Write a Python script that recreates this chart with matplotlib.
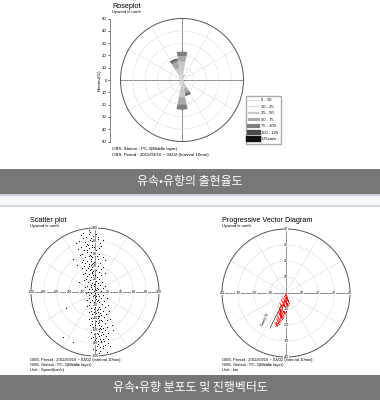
import numpy as np
import matplotlib
matplotlib.use("Agg")
import matplotlib.pyplot as plt
from matplotlib.patches import Rectangle
from matplotlib.lines import Line2D

plt.rcParams['font.family'] = ['Liberation Sans', 'DejaVu Sans']

# ---- rose plot data (percent per direction, stacked by speed class) ----
directions = np.arange(0, 360, 22.5)
speed_classes = ["0 - 10", "10 - 25", "25 - 50", "50 - 75", "75 - 100", "100 - 125", "125cm/s -"]
class_colors = ['#f0f0f0', '#dddddd', '#c8c8c8', '#aaaaaa', '#7e7e7e', '#4a4a4a', '#111111']
rose_pct = [
    # N    NNE  NE   ENE  E    ESE  SE   SSE  S    SSW  SW   WSW  W    WNW  NW   NNW
    [1.0, 0.5, 0.3, 0.2, 0.2, 0.2, 0.3, 0.5, 1.0, 0.5, 0.3, 0.2, 0.2, 0.2, 0.3, 0.5],
    [4.0, 1.5, 0.8, 0.5, 0.4, 0.5, 1.0, 2.0, 4.0, 1.5, 0.8, 0.5, 0.4, 0.5, 1.0, 2.5],
    [10.0, 2.0, 0.5, 0.2, 0.1, 0.3, 1.0, 4.5, 9.0, 1.5, 0.5, 0.2, 0.1, 0.3, 1.0, 7.0],
    [4.5, 0.5, 0.0, 0.0, 0.0, 0.0, 0.3, 3.5, 6.0, 0.5, 0.0, 0.0, 0.0, 0.0, 0.5, 5.0],
    [3.0, 0.0, 0.0, 0.0, 0.0, 0.0, 0.0, 1.5, 3.5, 0.0, 0.0, 0.0, 0.0, 0.0, 0.0, 1.5],
    [0.5, 0.0, 0.0, 0.0, 0.0, 0.0, 0.0, 0.7, 0.5, 0.0, 0.0, 0.0, 0.0, 0.0, 0.0, 0.8],
    [0.0, 0.0, 0.0, 0.0, 0.0, 0.0, 0.0, 0.4, 0.0, 0.0, 0.0, 0.0, 0.0, 0.0, 0.0, 0.5],
]
pct_ticks = [-50, -40, -30, -20, -10, 0, 10, 20, 30, 40, 50]

# ---- scatter plot data (u east, v north, cm/s) ----
scatter_uv = [
    (-18, 92), (-8, 94), (-3, 88), (-14, 86), (2, 91), (-22, 89), (-10, 97), (5, 86), (-6, 84),
    (-25, 80), (-15, 78), (-8, 82), (-2, 79), (4, 83), (-12, 75), (-19, 84), (8, 77), (-5, 74), (12, 81), (-30, 76),
    (-22, 70), (-14, 72), (-9, 68), (-4, 71), (2, 66), (-17, 65), (-11, 74), (6, 69), (-1, 64), (-26, 67), (10, 72), (-7, 63),
    (-20, 60), (-13, 62), (-8, 58), (-3, 61), (3, 57), (-16, 55), (-10, 56), (7, 60), (-5, 54), (-24, 58), (12, 55), (0, 62), (-35, 52),
    (-18, 50), (-12, 48), (-7, 52), (-2, 47), (4, 51), (-15, 45), (-9, 44), (8, 46), (-4, 43), (-21, 47), (1, 44), (-6, 49), (15, 50),
    (-17, 40), (-11, 38), (-6, 42), (-1, 37), (5, 41), (-14, 35), (-8, 34), (9, 36), (-3, 33), (-20, 38), (2, 34), (-5, 39), (13, 39), (-28, 42),
    (-15, 30), (-10, 28), (-5, 32), (0, 27), (6, 31), (-13, 25), (-7, 24), (10, 26), (-2, 23), (-19, 28), (3, 24), (-4, 29), (15, 30),
    (-14, 20), (-8, 18), (-3, 22), (2, 17), (7, 21), (-11, 15), (-5, 14), (11, 16), (0, 13), (-17, 18), (4, 14), (-2, 19), (-25, 15),
    (-12, 10), (-7, 8), (-2, 12), (3, 7), (8, 11), (-10, 5), (-4, 4), (12, 6), (1, 3), (-15, 8), (5, 4), (-1, 9), (16, 10),
    (-11, 0), (-6, -2), (-1, 2), (4, -3), (9, 1), (-9, -5), (-3, -6), (13, -4), (2, -7), (-14, -2), (6, -6), (0, -1), (-20, 3), (20, -2),
    (-10, -10), (-5, -12), (0, -8), (5, -13), (10, -9), (-8, -15), (-2, -16), (14, -14), (3, -17), (-13, -12), (7, -16), (1, -11), (18, -10),
    (-9, -20), (-4, -22), (1, -18), (6, -23), (11, -19), (-7, -25), (-1, -26), (15, -24), (4, -27), (-12, -22), (8, -26), (2, -21), (-45, -25), (20, -21),
    (-7, -30), (-2, -32), (3, -28), (8, -33), (13, -29), (-5, -35), (1, -36), (17, -34), (6, -37), (-10, -32), (10, -36), (4, -31), (22, -30),
    (-6, -40), (-1, -42), (4, -38), (9, -43), (14, -39), (-4, -45), (2, -46), (18, -44), (7, -47), (-9, -42), (11, -46), (5, -41), (24, -42),
    (-5, -50), (0, -52), (5, -48), (10, -53), (15, -49), (-3, -55), (3, -56), (19, -54), (8, -57), (-8, -52), (12, -56), (6, -51), (26, -52),
    (-4, -60), (1, -62), (6, -58), (11, -63), (16, -59), (-2, -65), (4, -66), (20, -64), (9, -67), (-7, -62), (13, -66), (7, -61), (28, -60),
    (-3, -70), (2, -72), (7, -68), (12, -73), (17, -69), (0, -75), (5, -76), (21, -74), (10, -77), (-6, -72), (14, -76),
    (0, -80), (5, -82), (10, -78), (15, -83), (20, -79), (3, -85), (8, -86), (24, -84), (-5, -81),
    (2, -90), (8, -92), (13, -88), (18, -93), (6, -96), (-3, -89), (-50, -70), (-35, -78),
    (-9, 90), (-4, 80), (-12, 65), (-6, 57), (-10, 41), (-7, 36), (-3, 26), (-6, 11), (0, 5), (-2, -4),
    (3, -14), (0, -23), (2, -33), (7, -44), (9, -58), (3, -64), (8, -73), (12, -84), (-1, 70), (-3, 46),
]
scatter_ticks = [-100, -80, -60, -40, -20, 20, 40, 60, 80, 100]

# ---- progressive vector diagram (km) ----
pvd_u = [0, 1.5, -0.5, 2.5, -1, 1.5, -2, 2, -1.5, 0.5, -3, 1, -2.5, -0.5, -4, 0, -3.5,
         -1, -4.5, -1.5, -5, -2, -4, -3, -5.5, -3.5, -6, -4, -6.5, -5, -7, -5.5, -6.5]
pvd_v = [0, -5, -1, -7, -2, -9, -3, -8, -5, -12, -4, -11, -7, -14, -6, -13, -10,
         -15, -9, -16, -12, -17, -11, -18, -14, -19, -16, -20, -18, -21, -19, -20, -21]
pvd_ticks = [-40, -30, -20, -10, 10, 20, 30, 40]

W, H = 380, 400
fig = plt.figure(figsize=(3.8, 4.0), dpi=100)
fig.patch.set_facecolor('white')


def px_rect(cx, cy, r):
    return [(cx - r) / W, (H - cy - r) / H, 2 * r / W, 2 * r / H]


def ftext(x, y, s, **kw):
    fig.text(x / W, 1 - y / H, s, va='center', **kw)


def style_polar(ax, rmax, rings):
    ax.set_theta_zero_location('N')
    ax.set_theta_direction(-1)
    ax.set_ylim(0, rmax)
    ax.set_yticks(rings)
    ax.set_yticklabels([])
    ax.set_xticks(np.deg2rad(np.arange(0, 360, 30)))
    ax.set_xticklabels([])
    ax.grid(True, color='#c8c8c8', lw=0.4, ls=(0, (3, 2)))
    ax.spines['polar'].set_color('#555555')
    ax.spines['polar'].set_linewidth(0.7)
    for t in [0, np.pi / 2]:
        ax.plot([t, t + np.pi], [rmax, rmax], color='#777777', lw=0.7, zorder=1)


def axis_labels(ax, ticks):
    box = dict(facecolor='white', edgecolor='none', pad=0.2)
    for t in ticks:
        ax.text(np.pi / 2 if t > 0 else -np.pi / 2, abs(t), str(t), fontsize=2.6,
                ha='center', va='center', bbox=box, zorder=5)
        ax.text(0 if t > 0 else np.pi, abs(t), str(t), fontsize=2.6,
                ha='center', va='center', bbox=box, zorder=5)


# ---- rose plot ----
axr = fig.add_axes(px_rect(182, 80, 61.5), projection='polar')
style_polar(axr, 50, [10, 20, 30, 40])
theta = np.deg2rad(directions)
bottom = np.zeros(len(directions))
for vals, col in zip(rose_pct, class_colors):
    axr.bar(theta, vals, width=np.deg2rad(22.5) * 0.95, bottom=bottom,
            color=col, edgecolor='none', zorder=3)
    bottom += np.array(vals)

axp = fig.add_axes([110 / W, (H - 141.5) / H, 0.001, 123 / H])
axp.set_ylim(-50, 50)
axp.set_yticks(pct_ticks)
axp.set_yticklabels([str(abs(t)) for t in pct_ticks], fontsize=3.2)
axp.tick_params(axis='y', length=1.5, width=0.4, pad=0.8)
axp.set_xticks([])
for s in ['top', 'right', 'bottom']:
    axp.spines[s].set_visible(False)
axp.spines['left'].set_linewidth(0.5)
axp.spines['left'].set_color('#555555')
ftext(100, 80, "Percent(%)", fontsize=3.2, rotation=90, ha='center')

ftext(112, 6.5, "Roseplot", fontsize=5.2)
ftext(112, 12, "Upward is north", fontsize=3)
ftext(112, 149, "OBS. Station : PC-3(Middle layer)", fontsize=3.2)
ftext(112, 155, "OBS. Period : 2011/03/16 ~ 03/02 (Interval 10min)", fontsize=3.2)

handles = [Line2D([], [], color=c, lw=lw) for c, lw in
           zip(class_colors, [0.5, 1, 1.5, 2.2, 3, 3.8, 4.6])]
handles[0].set_color('#cfcfcf')
fig.legend(handles, speed_classes, loc='lower left',
           bbox_to_anchor=(244 / W, 1 - 146 / H), fontsize=3, handlelength=2.2,
           labelspacing=0.6, borderpad=0.6, fancybox=False, edgecolor='#aaaaaa',
           framealpha=1)

# ---- scatter plot ----
axs = fig.add_axes(px_rect(95, 292, 64), projection='polar')
style_polar(axs, 100, [20, 40, 60, 80])
su = np.array([p[0] for p in scatter_uv], dtype=float)
sv = np.array([p[1] for p in scatter_uv], dtype=float)
axs.scatter(np.arctan2(su, sv), np.hypot(su, sv), s=0.7, color='black',
            marker='o', linewidths=0, zorder=4)
axis_labels(axs, scatter_ticks)
ftext(30, 221, "Scatter plot", fontsize=5.2)
ftext(30, 226.5, "Upward is north", fontsize=3)
ftext(30, 360, "OBS. Period : 2011/03/16 ~ 03/02 (Interval 10min)", fontsize=3)
ftext(30, 365, "OBS. Station : PC-3(Middle layer)", fontsize=3)
ftext(30, 370, "Unit : Speed(cm/s)", fontsize=3)

# ---- progressive vector diagram ----
axv = fig.add_axes(px_rect(286, 293, 64), projection='polar')
style_polar(axv, 40, [10, 20, 30])
pu = np.array(pvd_u, dtype=float)
pv = np.array(pvd_v, dtype=float)
axv.plot(np.arctan2(pu, pv), np.hypot(pu, pv), color='red', lw=0.4, zorder=4)
axv.plot([np.arctan2(-3, -8), np.arctan2(-10, -22)], [np.hypot(3, 8), np.hypot(10, 22)],
         color='black', lw=0.4, zorder=4)
axv.text(np.arctan2(-13, -17), np.hypot(13, 17), "Time(x 5)", fontsize=2.4,
         rotation=66, ha='center', va='center', zorder=5)
axis_labels(axv, pvd_ticks)
ftext(222, 221, "Progressive Vector Diagram", fontsize=5.2)
ftext(222, 226.5, "Upward is north", fontsize=3)
ftext(222, 360, "OBS. Period : 2011/03/16 ~ 03/02 (Interval 10min)", fontsize=3)
ftext(222, 365, "OBS. Station : PC-3(Middle layer)", fontsize=3)
ftext(222, 370, "Unit : km", fontsize=3)


# ---- banners ----
def band(y0, y1, color):
    fig.add_artist(Rectangle((0, 1 - y1 / H), 1, (y1 - y0) / H,
                             transform=fig.transFigure, color=color, lw=0, zorder=0))


band(169, 194, '#777777')
band(194, 196, '#c3d0dc')
band(196, 205, '#f4f7f9')
band(205, 207, '#d3dadf')
band(375, 400, '#777777')
kfont = ['Noto Sans CJK KR', 'DejaVu Sans']
fig.text(0.5, 1 - 181.5 / H, "유속•유향의 출현율도", color='white', fontsize=8.6,
         ha='center', va='center', family=kfont)
fig.text(0.5, 1 - 388 / H, "유속•유향 분포도 및 진행벡터도", color='white', fontsize=8.6,
         ha='center', va='center', family=kfont)

fig.savefig("out.png", dpi=100)
